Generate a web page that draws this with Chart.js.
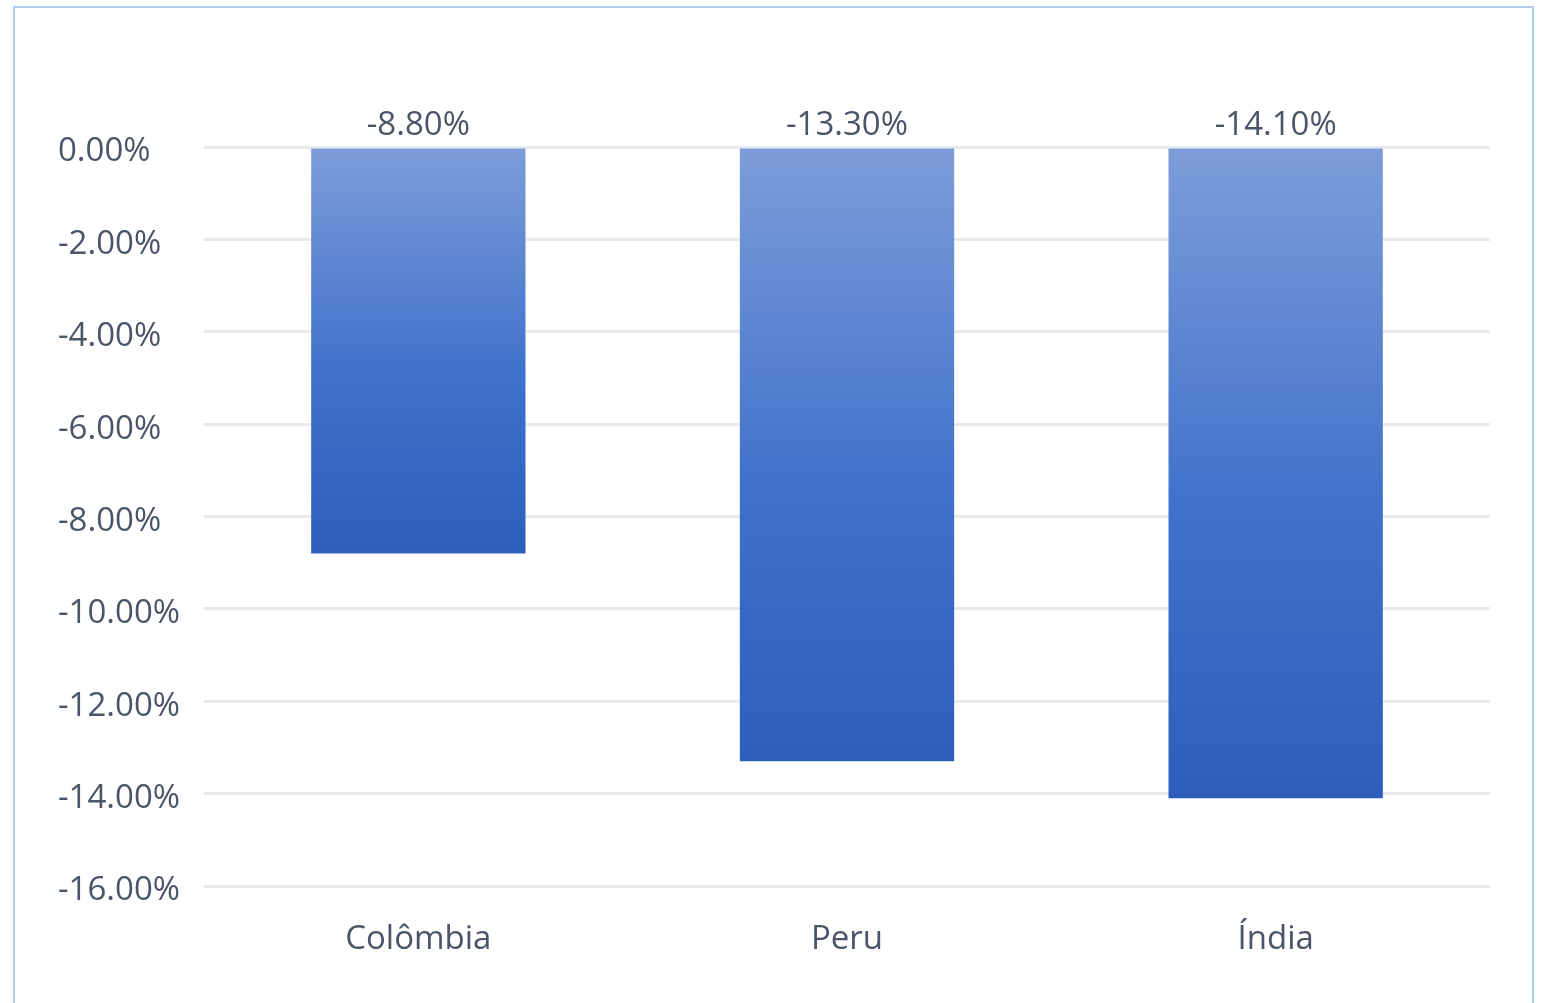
<!DOCTYPE html>
<html>
<head>
<meta charset="utf-8">
<script src="https://cdn.jsdelivr.net/npm/chart.js@4.4.1/dist/chart.umd.min.js"></script>
<style>
    html, body { margin: 0; padding: 0; background: #ffffff; overflow: hidden; }
    #wrap { position: relative; width: 1542px; height: 1003px; }
    #frame {
        position: absolute; left: 13px; top: 6px; width: 1521px; height: 1010px;
        border: 2px solid #b3cbf1; box-sizing: border-box;
    }
    canvas { position: absolute; left: 0; top: 0; }
</style>
</head>
<body>
<div id="wrap">
    <div id="frame"></div>
    <canvas id="barChart" width="1542" height="1003"></canvas>
</div>
<script>
// 데이터
const countries = ['Colômbia', 'Peru', 'Índia'];
const changes = [-8.8, -13.3, -14.1];   // 퍼센트 값
const yMin = -16;
const yMax = 0;
const yStep = 2;

const textColor = '#4a5568';
const fontFamily = '"Open Sans", "DejaVu Sans", sans-serif';

// 막대마다 위에서 아래로 그라디언트
function barGradient(context) {
    const chart = context.chart;
    const area = chart.chartArea;
    if (!area || context.type !== 'data') return '#4472c4';
    const y = chart.scales.y;
    const top = y.getPixelForValue(0);
    const bottom = y.getPixelForValue(changes[context.dataIndex]);
    const g = chart.ctx.createLinearGradient(0, top, 0, bottom);
    g.addColorStop(0, '#7d9dd8');
    g.addColorStop(0.55, '#4072cb');
    g.addColorStop(1, '#2d5ebb');
    return g;
}

// 0 기준선 위에 값 표시
const valueLabels = {
    id: 'valueLabels',
    afterDatasetsDraw(chart) {
        const ctx = chart.ctx;
        const meta = chart.getDatasetMeta(0);
        const zeroY = chart.scales.y.getPixelForValue(0);
        ctx.save();
        ctx.font = '33px ' + fontFamily;
        ctx.fillStyle = textColor;
        ctx.textAlign = 'center';
        ctx.textBaseline = 'alphabetic';
        meta.data.forEach(function (bar, i) {
            ctx.fillText(changes[i].toFixed(2) + '%', bar.x, zeroY - 12);
        });
        ctx.restore();
    }
};

const ctx = document.getElementById('barChart').getContext('2d');
new Chart(ctx, {
    type: 'bar',
    data: {
        labels: countries,
        datasets: [{
            data: changes,
            backgroundColor: barGradient,
            borderWidth: 0,
            categoryPercentage: 1.0,
            barPercentage: 0.5
        }]
    },
    options: {
        responsive: false,
        animation: false,
        layout: {
            padding: { left: 58, right: 52, top: 147, bottom: 17 }
        },
        plugins: {
            legend: { display: false },
            tooltip: { enabled: false }
        },
        scales: {
            x: {
                grid: { display: false, drawTicks: false },
                border: { display: false },
                afterFit: function (scale) { scale.height = 100; },
                ticks: {
                    color: textColor,
                    padding: 34,
                    font: { family: fontFamily, size: 33 }
                }
            },
            y: {
                min: yMin,
                max: yMax,
                afterFit: function (scale) { scale.width = 146; },
                grid: { color: '#e8eaf0', lineWidth: 3, drawTicks: false },
                border: { display: false },
                ticks: {
                    stepSize: yStep,
                    color: textColor,
                    crossAlign: 'far',
                    padding: 20,
                    labelOffset: 5,
                    font: { family: fontFamily, size: 33 },
                    callback: function (v) { return v.toFixed(2) + '%'; }
                }
            }
        }
    },
    plugins: [valueLabels]
});
</script>
</body>
</html>
